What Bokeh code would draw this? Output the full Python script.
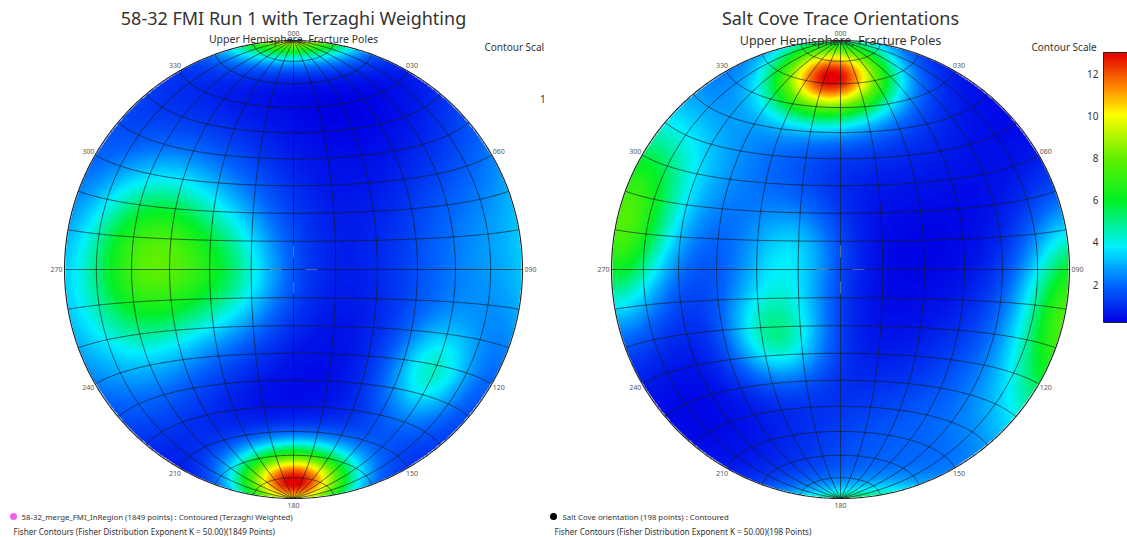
import numpy as np
from bokeh.plotting import figure
from bokeh.layouts import row
from bokeh.models import LinearColorMapper
from bokeh.embed import file_html
from bokeh.resources import INLINE
from bokeh.core.properties import value

# ---------------------------------------------------------------- data
# Pole concentrations for each data set: position on the net (azimuth in
# degrees, angle from the net centre in degrees), peak density and spread.
fmi_azimuth   = [180, 274, 272, 127, 262, 300,  85, 240, 150,  90]
fmi_offcentre = [ 82,  52,  55,  64,  22,  35,  75,  75,  75,  55]
fmi_peak      = [11.5, 3.0, 2.8, 2.8, 2.0, 1.2, 1.2, 1.0, 0.8, 0.9]
fmi_kappa     = [ 30,  10,   6,  25,  15,   5,   7,   7,   8,   5]
fmi_base = 0.3

salt_azimuth   = [357.5, 279, 300, 223, 290, 240, 316, 170, 130, 15]
salt_offcentre = [ 73,    88,  80,  33,  18,  30,  53,  70,  70, 60]
salt_peak      = [12.0,  6.0, 2.0, 3.2, 2.4, 1.5, 1.5, 1.2, 1.2, 0.8]
salt_kappa     = [ 24,    12,  10,  25,  20,  12,   8,   8,   8,  8]
salt_base = 0.2

# contour scale ranges and their tick labels
fmi_scale = (0.5, 12.0)
salt_scale = (0.2, 13.0)
fmi_ticks = [2, 4, 6, 8, 10]
salt_ticks = [2, 4, 6, 8, 10, 12]

# azimuth labels round the primitive
net_azimuths = [0, 30, 60, 90, 120, 150, 180, 210, 240, 270, 300, 330]
net_labels = ["000", "030", "060", "090", "120", "150", "180", "210", "240", "270", "300", "330"]

titles = ["58-32 FMI Run 1 with Terzaghi Weighting", "Salt Cove Trace Orientations"]
subtitle = "Upper Hemisphere, Fracture Poles"
legend_series = ["58-32_merge_FMI_InRegion (1849 points) : Contoured (Terzaghi Weighted)",
                 "Salt Cove orientation (198 points) : Contoured"]
legend_method = ["Fisher Contours (Fisher Distribution Exponent K = 50.00)(1849 Points)",
                 "Fisher Contours (Fisher Distribution Exponent K = 50.00)(198 Points)"]
legend_colors = ["#f060f0", "#000000"]

# ---------------------------------------------------------------- layout
H = 537
PANEL_W = [544, 583]
NET_R = 229
NET_CX = [293, 296]
NET_CY = H - 269
BAR_TOP, BAR_BOT = H - 52, H - 322

# jet-like colour ramp (fraction of scale -> rgb)
ramp_pos = [0.0, 0.14, 0.28, 0.45, 0.61, 0.77, 0.87, 1.0]
ramp_rgb = [(0, 0, 228), (0, 105, 255), (0, 240, 255), (0, 240, 40),
            (100, 240, 0), (255, 255, 0), (255, 140, 0), (228, 0, 0)]


def make_palette(n=256):
    t = np.linspace(0, 1, n)
    rgb = np.array(ramp_rgb, dtype=float)
    cols = [np.interp(t, ramp_pos, rgb[:, ch]) for ch in range(3)]
    return ["#%02x%02x%02x" % (int(r), int(g), int(b)) for r, g, b in zip(*cols)]


PALETTE = make_palette()


def net_xy(lat, lon):
    """Equal-area (Schmidt) projection, N-S rotation axis, unit primitive."""
    lat, lon = np.radians(lat), np.radians(lon)
    x = np.cos(lat) * np.sin(lon)
    y = np.sin(lat)
    z = np.cos(lat) * np.cos(lon)
    s = 1.0 / np.sqrt(1.0 + z)
    return x * s, y * s


def density(az, off, peak, kappa, base, n=460):
    g = np.linspace(-1, 1, n)
    X, Y = np.meshgrid(g, g)
    r = np.hypot(X, Y)
    delta = 2 * np.arcsin(np.clip(r / np.sqrt(2), 0, 1))
    phi = np.arctan2(X, Y)
    vx, vy, vz = np.sin(delta) * np.sin(phi), np.sin(delta) * np.cos(phi), np.cos(delta)
    d = np.full_like(X, base)
    for a, o, pk, k in zip(az, off, peak, kappa):
        a, o = np.radians(a), np.radians(o)
        c = np.abs(vx * np.sin(o) * np.sin(a) + vy * np.sin(o) * np.cos(a) + vz * np.cos(o))
        d += pk * np.exp(k * (c - 1.0))
    d[r > 1.0] = np.nan
    return d


def panel(i, az, off, peak, kappa, base, scale, ticks, title_px, sub_px):
    W = PANEL_W[i]
    cx, cy, R = NET_CX[i], NET_CY, NET_R
    p = figure(width=W, height=H, x_range=(0, W), y_range=(0, H),
               output_backend="svg", toolbar_location=None, min_border=0)
    p.axis.visible = False
    p.grid.visible = False
    p.outline_line_color = None
    p.background_fill_color = "white"

    mapper = LinearColorMapper(palette=PALETTE, low=scale[0], high=scale[1],
                               nan_color=(0, 0, 0, 0.0))
    dens = density(az, off, peak, kappa, base)
    p.image(image=[dens], x=cx - R, y=cy - R, dw=2 * R, dh=2 * R, color_mapper=mapper)

    # stereonet grid: meridians every 15 deg, parallels every 10 deg
    xs, ys = [], []
    t = np.linspace(-90, 90, 181)
    for lon in range(-75, 76, 15):
        X, Y = net_xy(t, np.full_like(t, lon))
        xs.append(cx + R * X); ys.append(cy + R * Y)
    for lat in range(-80, 81, 10):
        X, Y = net_xy(np.full_like(t, lat), t)
        xs.append(cx + R * X); ys.append(cy + R * Y)
    p.multi_line(xs, ys, line_color="#1a1a1a", line_alpha=0.72, line_width=0.9)
    ang = np.linspace(0, 2 * np.pi, 721)
    p.line(cx + R * np.cos(ang), cy + R * np.sin(ang), line_color="#222222", line_width=1.1)

    # centre mark
    p.segment(x0=[cx - 24, cx + 12, cx, cx], y0=[cy, cy, cy + 24, cy - 12],
              x1=[cx - 12, cx + 24, cx, cx], y1=[cy, cy, cy + 12, cy - 24],
              line_color="white", line_alpha=0.3, line_width=1)

    # azimuth labels
    a = np.radians(net_azimuths)
    p.text(x=cx + (R + 8) * np.sin(a), y=cy + (R + 7) * np.cos(a), text=net_labels,
           text_font=value("Noto Sans"), text_font_size=value("7px"), text_color="#555555",
           text_align="center", text_baseline="middle")

    # titles
    p.text(x=[cx], y=[H - 17], text=[titles[i]], text_font=value("Noto Sans"),
           text_font_size=value(title_px), text_color="#333333",
           text_align="center", text_baseline="middle")
    p.text(x=[cx], y=[H - (38 if i == 0 else 40)], text=[subtitle], text_font=value("Noto Sans"),
           text_font_size=value(sub_px), text_color="#333333",
           text_align="center", text_baseline="middle")

    # legend
    p.scatter(x=[13 if i == 0 else 9], y=[H - 516], size=7, marker="circle",
              fill_color=legend_colors[i], line_color=None)
    p.text(x=[21 if i == 0 else 18], y=[H - 516], text=[legend_series[i]], text_font=value("Noto Sans"),
           text_font_size=value("7.8px"), text_color="#333333", text_baseline="middle")
    p.text(x=[13 if i == 0 else 10], y=[H - 531], text=[legend_method[i]], text_font=value("Noto Sans"),
           text_font_size=value("8.1px"), text_color="#333333", text_baseline="middle")

    # contour scale bar
    p.text(x=[cx + 191], y=[H - 46], text=["Contour Scale"], text_font=value("Noto Sans"),
           text_font_size=value("10px"), text_color="#333333", text_baseline="middle")
    bar_x = cx + 263
    grad = np.linspace(scale[0], scale[1], 256).reshape(256, 1)
    p.image(image=[grad], x=bar_x, y=BAR_BOT, dw=30, dh=BAR_TOP - BAR_BOT, color_mapper=mapper)
    p.line([bar_x, bar_x, bar_x + 30, bar_x + 30, bar_x], [BAR_BOT, BAR_TOP, BAR_TOP, BAR_BOT, BAR_BOT],
           line_color="#222222", line_width=1)
    ty = [BAR_BOT + (v - scale[0]) / (scale[1] - scale[0]) * (BAR_TOP - BAR_BOT) for v in ticks]
    p.text(x=[bar_x - 5] * len(ticks), y=ty, text=[str(v) for v in ticks],
           text_font=value("Noto Sans"), text_font_size=value("10px"), text_color="#333333",
           text_align="right", text_baseline="middle")
    return p


left = panel(0, fmi_azimuth, fmi_offcentre, fmi_peak, fmi_kappa, fmi_base,
             fmi_scale, fmi_ticks, "18px", "10.5px")
right = panel(1, salt_azimuth, salt_offcentre, salt_peak, salt_kappa, salt_base,
              salt_scale, salt_ticks, "18px", "12.5px")

layout = row(left, right, spacing=0)
open("out.html", "w").write(file_html(layout, INLINE))
